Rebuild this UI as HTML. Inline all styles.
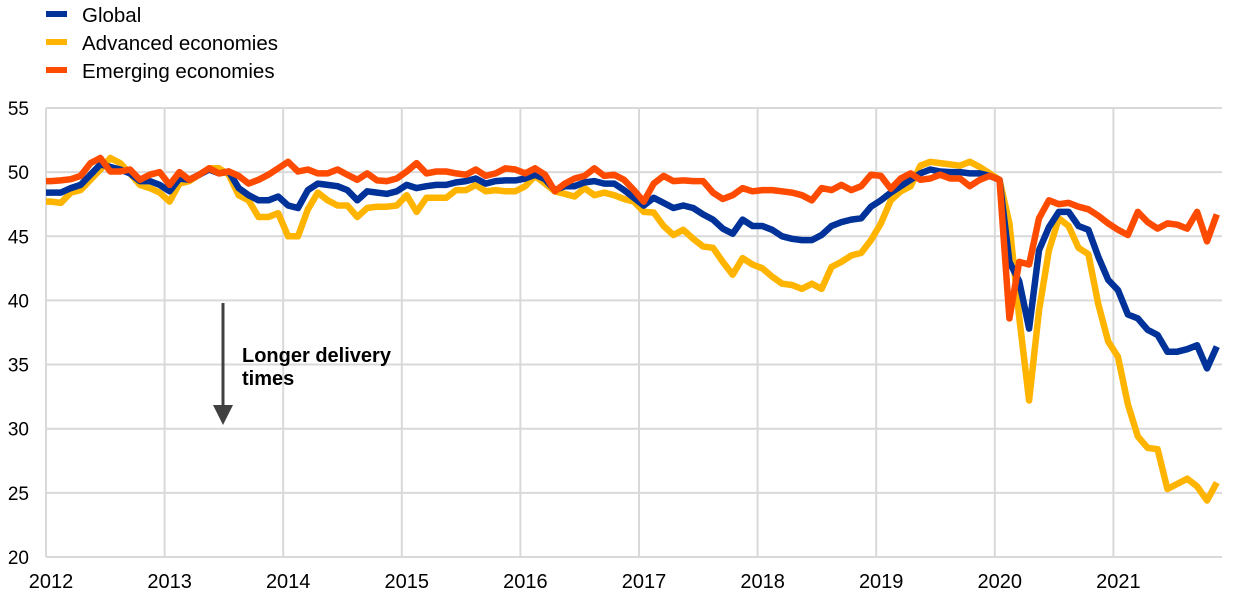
<!DOCTYPE html>
<html><head><meta charset="utf-8"><style>
body{margin:0;background:#fff;width:1240px;height:602px;overflow:hidden}
svg{display:block}
text{font-family:"Liberation Sans",Arial,sans-serif;fill:#000}
</style></head><body>
<svg id="s" width="1240" height="602" xmlns="http://www.w3.org/2000/svg">
<g id="grid" stroke="#d9d9d9" stroke-width="2"></g>
<g id="lbl" font-size="19"></g>
<line x1="46" y1="14" x2="67" y2="14" stroke="#003299" stroke-width="6"/>
<line x1="46" y1="42" x2="67" y2="42" stroke="#ffb400" stroke-width="6"/>
<line x1="46" y1="70" x2="67" y2="70" stroke="#ff4b00" stroke-width="6"/>
<text x="82" y="22" font-size="20.5">Global</text>
<text x="82" y="50" font-size="20.5">Advanced economies</text>
<text x="82" y="78" font-size="20.5">Emerging economies</text>
<line x1="223" y1="303" x2="223" y2="408" stroke="#404040" stroke-width="3"/>
<polygon points="213,405 233,405 223,425" fill="#404040"/>
<text x="242" y="362" font-size="20" font-weight="bold">Longer delivery</text>
<text x="242" y="385" font-size="20" font-weight="bold">times</text>
<g id="lines" fill="none" stroke-width="6.5" stroke-linejoin="round"></g>
</svg>
<script>
var NS="http://www.w3.org/2000/svg";
function Y(v){return 557-(v-20)*12.83;}
var g=document.getElementById('grid'),l=document.getElementById('lbl');
function el(p,t,a,txt){var e=document.createElementNS(NS,t);for(var k in a)e.setAttribute(k,a[k]);if(txt)e.textContent=txt;p.appendChild(e);return e;}
for(var v=20;v<=55;v+=5){var y=Y(v);el(g,'line',{x1:46,x2:1222,y1:y,y2:y});el(l,'text',{x:29,y:y+7,'text-anchor':'end'},String(v));}
for(var yr=0;yr<10;yr++){var x=46+118.6*yr;el(g,'line',{x1:x,x2:x,y1:108,y2:557});el(l,'text',{x:x+5,y:588,'text-anchor':'middle','font-size':20},String(2012+yr));}
var blue=[48.4,48.4,48.75,49.0,49.8,50.6,50.4,50.2,49.9,49.3,49.3,49.0,
48.5,49.5,49.4,49.8,50.2,49.9,50.05,48.75,48.2,47.8,47.8,48.1,
47.4,47.2,48.6,49.1,49.0,48.9,48.6,47.8,48.5,48.4,48.3,48.5,
49.0,48.75,48.9,49.0,49.0,49.2,49.3,49.5,49.1,49.3,49.35,49.35,
49.5,49.8,49.45,48.6,48.9,48.9,49.2,49.3,49.1,49.1,48.6,48.0,
47.4,48.0,47.6,47.2,47.4,47.2,46.7,46.3,45.6,45.2,46.3,45.8,
45.8,45.5,45.0,44.8,44.7,44.7,45.1,45.8,46.1,46.3,46.4,47.3,
47.8,48.4,48.9,49.4,49.9,50.2,50.05,50,50,49.9,49.9,49.7,
49.4,43,41.5,37.8,43.9,45.7,46.9,46.9,45.8,45.5,43.4,41.6,
40.8,38.9,38.6,37.7,37.3,36.0,36.0,36.2,36.5,34.7,36.4];
var yel=[47.7,47.6,48.4,48.6,49.4,50.2,51.1,50.7,49.9,49.0,48.75,48.4,
47.7,49.1,49.3,49.8,50.3,50.3,49.8,48.2,47.8,46.5,46.5,46.8,
45.0,45.0,47.1,48.4,47.8,47.4,47.4,46.5,47.2,47.3,47.3,47.4,
48.2,46.9,48.0,48.0,48.0,48.6,48.6,49.0,48.5,48.6,48.5,48.5,
48.9,49.7,49.1,48.5,48.3,48.1,48.75,48.2,48.4,48.2,47.9,47.7,
46.9,46.85,45.8,45.1,45.5,44.8,44.2,44.1,43.0,42.0,43.3,42.8,
42.5,41.85,41.3,41.2,40.9,41.3,40.9,42.6,43.0,43.5,43.7,44.7,
46.0,47.8,48.5,48.9,50.5,50.8,50.7,50.6,50.5,50.8,50.4,49.9,
49.4,46.0,38.7,32.2,39.2,43.9,46.4,45.8,44.1,43.6,39.7,36.8,
35.6,31.9,29.4,28.5,28.4,25.3,25.7,26.1,25.5,24.4,25.8];
var ora=[49.3,49.35,49.45,49.7,50.7,51.1,50.05,50.05,50.2,49.4,49.8,50.0,
49.0,50.0,49.4,49.8,50.3,49.9,50.05,49.7,49.1,49.4,49.8,50.3,
50.8,50.05,50.2,49.9,49.9,50.2,49.8,49.4,49.9,49.35,49.3,49.5,
50.05,50.7,49.9,50.05,50.05,49.9,49.8,50.2,49.7,49.9,50.3,50.2,
49.9,50.3,49.8,48.5,49.1,49.5,49.7,50.3,49.7,49.8,49.4,48.6,
47.7,49.1,49.7,49.3,49.35,49.3,49.3,48.4,47.9,48.2,48.75,48.5,
48.6,48.6,48.5,48.4,48.2,47.8,48.75,48.6,49.0,48.6,48.9,49.8,
49.7,48.7,49.5,49.9,49.4,49.5,49.8,49.5,49.5,48.9,49.4,49.7,
49.4,38.6,43.0,42.8,46.4,47.8,47.5,47.6,47.3,47.1,46.6,46.0,
45.5,45.1,46.9,46.1,45.6,46.0,45.9,45.6,46.9,44.6,46.7];
var L=document.getElementById('lines');
[[yel,'#ffb400'],[blue,'#003299'],[ora,'#ff4b00']].forEach(function(s){
 var d=s[0],p=[[46,Y(d[0])]];
 for(var i=0;i<d.length;i++)p.push([51+9.88*i,Y(d[i])]);
 el(L,'polyline',{points:p.map(function(q){return q[0].toFixed(1)+','+q[1].toFixed(1)}).join(' '),stroke:s[1]});
});
</script>
</body></html>
